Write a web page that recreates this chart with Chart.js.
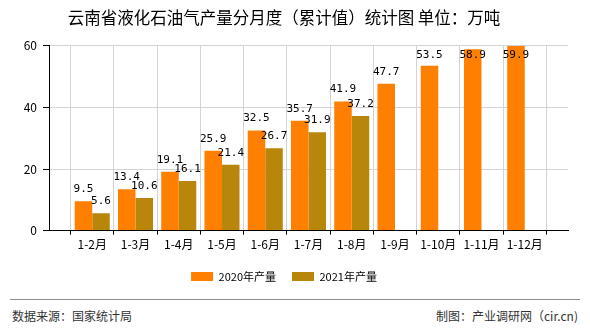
<!DOCTYPE html>
<html>
<head>
<meta charset="utf-8">
<script src="https://cdn.jsdelivr.net/npm/chart.js@4.4.1/dist/chart.umd.min.js"></script>
<style>
  html, body { margin: 0; padding: 0; background: #fff; }
  #wrap { position: relative; width: 590px; height: 330px; overflow: hidden; }
  #chartBox { position: absolute; left: 0; top: 0; width: 590px; height: 296px; }
  #foot { position: absolute; left: 10px; top: 299px; width: 570px; height: 30px; border-top: 1px solid #8c8c8c;
          font: 12px "Noto Sans CJK SC", sans-serif; color: #333; }
  #foot span { position: absolute; top: 7px; white-space: nowrap; }
</style>
</head>
<body>
<div id="wrap">
  <div id="chartBox"><canvas id="lpgChart"></canvas></div>
  <div id="foot">
    <span style="left:2px">数据来源：国家统计局</span>
    <span style="right:2px">制图：产业调研网（cir.cn)</span>
  </div>
</div>
<script>
// cumulative monthly output, 10k tonnes
const months = ['1-2月', '1-3月', '1-4月', '1-5月', '1-6月', '1-7月', '1-8月', '1-9月', '1-10月', '1-11月', '1-12月'];
const output2020 = [9.5, 13.4, 19.1, 25.9, 32.5, 35.7, 41.9, 47.7, 53.5, 58.9, 59.9];
const output2021 = [5.6, 10.6, 16.1, 21.4, 26.7, 31.9, 37.2];
const seriesNames = ['2020年产量', '2021年产量'];
const yMax = 60;
const yStep = 20;

// blank slot at each end so the months sit on the inner grid lines
const labels = [''].concat(months, ['']);
function pad(vals) {
  const out = [null];
  for (let i = 0; i < months.length; i++) out.push(i < vals.length ? vals[i] : null);
  out.push(null);
  return out;
}

// value text over each bar, kept inside the plot at the top
const valueLabels = {
  id: 'valueLabels',
  afterDatasetsDraw(chart) {
    const ctx = chart.ctx;
    const top = chart.chartArea.top;
    ctx.save();
    ctx.font = '11px "DejaVu Sans Mono", monospace';
    ctx.fillStyle = '#000';
    ctx.textAlign = 'center';
    ctx.textBaseline = 'middle';
    chart.data.datasets.forEach((ds, i) => {
      const meta = chart.getDatasetMeta(i);
      meta.data.forEach((bar, j) => {
        const v = ds.data[j];
        if (v === null || v === undefined) return;
        const y = Math.max(bar.y - 12, top + 9);
        ctx.fillText(v.toFixed(1), bar.x, y);
      });
    });
    ctx.restore();
  }
};

Chart.defaults.font.family = '"Noto Sans CJK SC", sans-serif';
Chart.defaults.color = '#000';

const ctx = document.getElementById('lpgChart').getContext('2d');
const myChart = new Chart(ctx, {
  type: 'bar',
  data: {
    labels: labels,
    datasets: [{
      label: seriesNames[0],
      data: pad(output2020),
      backgroundColor: '#ff8000',
      categoryPercentage: 0.81,
      barPercentage: 1.0
    }, {
      label: seriesNames[1],
      data: pad(output2021),
      backgroundColor: '#b8860b',
      categoryPercentage: 0.81,
      barPercentage: 1.0
    }]
  },
  options: {
    responsive: true,
    maintainAspectRatio: false,
    animation: false,
    layout: { padding: { left: 0, right: 22, top: 0, bottom: 4 } },
    plugins: {
      title: {
        display: true,
        text: '云南省液化石油气产量分月度（累计值）统计图 单位：万吨',
        color: '#000',
        font: { size: 16.5, weight: 'normal' },
        padding: { top: 8, bottom: 18 }
      },
      legend: {
        position: 'bottom',
        labels: {
          boxWidth: 22,
          boxHeight: 9,
          padding: 16,
          font: { size: 11 },
          color: '#000'
        }
      },
      tooltip: { enabled: false }
    },
    scales: {
      x: {
        offset: false,
        grid: { color: '#d4d4d4', tickColor: '#000', tickLength: 4 },
        border: { color: '#000' },
        ticks: { autoSkip: false, maxRotation: 0, padding: 3, font: { size: 12 } }
      },
      y: {
        min: 0,
        max: yMax,
        grid: { color: '#d4d4d4', tickColor: '#000', tickLength: 6 },
        border: { color: '#000' },
        ticks: { stepSize: yStep, padding: 6, font: { size: 12 } },
        afterFit(scale) { scale.width = 49; }
      }
    }
  },
  plugins: [valueLabels]
});
</script>
</body>
</html>
